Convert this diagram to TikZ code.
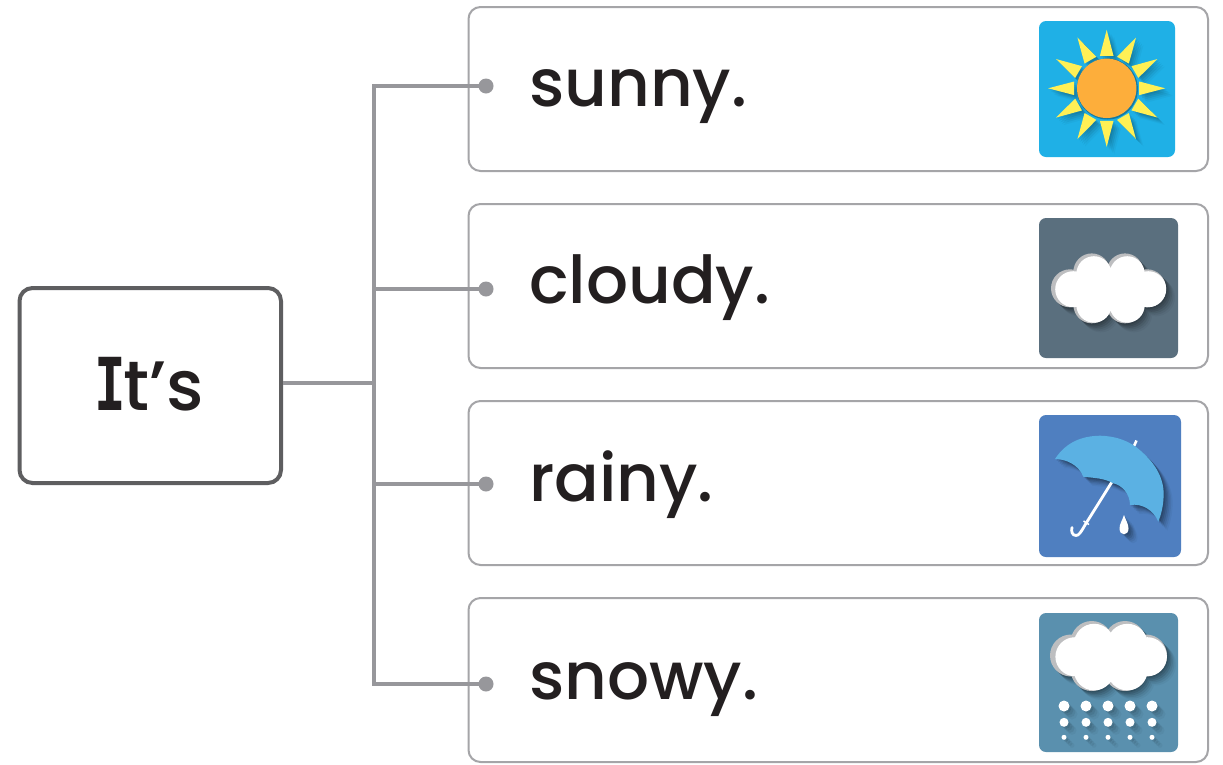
\documentclass[tikz,border=0pt]{standalone}
\usepackage{fontspec}
\setmainfont{Poppins}[UprightFont=* Medium]
\newfontfamily\slabfont{DejaVu Sans Mono}[UprightFont=* Bold,FakeStretch=0.72]
\definecolor{linegray}{HTML}{97979B}
\definecolor{boxgray}{HTML}{A5A5A8}
\definecolor{darkbox}{HTML}{5E5E60}
\definecolor{txt}{HTML}{231F20}
\definecolor{sky}{HTML}{1FB0E6}
\definecolor{slate}{HTML}{5A6F7E}
\definecolor{rainblue}{HTML}{4F7FC0}
\definecolor{snowblue}{HTML}{5A90AE}
\definecolor{umb}{HTML}{5BB1E3}
\definecolor{sunray}{HTML}{FFF055}
\definecolor{sunorange}{HTML}{FDAE3B}
\definecolor{cloudrim}{HTML}{BDBEC0}
\tikzset{
  x=1pt,y=-1pt,
  itembox/.style={draw=boxgray,line width=2pt,rounded corners=12pt,fill=white},
  rootbox/.style={draw=darkbox,line width=4pt,rounded corners=13pt,fill=white},
  conn/.style={draw=linegray,line width=3.6pt},
  dotmark/.style={circle,fill=linegray,inner sep=0pt,minimum size=15pt},
  word/.style={text=txt,font=\fontsize{66}{66}\selectfont,anchor=base west,inner sep=0pt},
  iconbg/.style={rounded corners=7pt},
}
% soft shadow: repeats a path, lower right, in faint layers
\newcommand{\softshadow}[1]{%
  \foreach \s/\o in {1.5/.13,3/.11,4.5/.10,6/.08,7.5/.06,9/.04}{%
    \begin{scope}[shift={(\s,\s)}]\fill[black,opacity=\o] #1;\end{scope}}}
\newcommand{\cloudA}{(1091.7,271.7) circle (18.3) (1125,271.7) circle (18.3) (1091.7,305) circle (18.3) (1125,305) circle (18.3) (1070,288.3) circle (19) (1147,288.3) circle (19) (1143,272) rectangle (1075,305)}
\newcommand{\cloudB}{(1091.7,642) circle (21) (1125,642) circle (21) (1091.7,670) circle (21) (1125,670) circle (21) (1071,655.5) circle (21) (1146,655.5) circle (21) (1143,640) rectangle (1075,672)}
\newcommand{\umbpath}{(1055,459) .. controls (1066,442) and (1082,436) .. (1100,435.7) .. controls (1116,436) and (1130,441) .. (1141,451) .. controls (1156,464) and (1165,480) .. (1163.5,498) .. controls (1163,507) and (1161,515) .. (1158.3,521.7) .. controls (1154,511) and (1143,503) .. (1130,505) .. controls (1130,494) and (1122,485) .. (1113.3,483.3) .. controls (1104,478) and (1094,478) .. (1083.3,476.7) .. controls (1079,465) and (1066,459) .. (1055,459) -- cycle}
\newcommand{\droppath}{(1124,515) .. controls (1126,521) and (1128.5,524) .. (1128.5,528.5) .. controls (1128.5,532) and (1126.5,534.3) .. (1124,534.3) .. controls (1121.5,534.3) and (1119.5,532) .. (1119.5,528.5) .. controls (1119.5,524) and (1122,521) .. (1124,515) -- cycle}
\begin{document}
\begin{tikzpicture}
\useasboundingbox (0,0) rectangle (1223,764);
\fill[white] (0,0) rectangle (1223,764);
% boxes
\draw[rootbox] (19.5,288) rectangle (281,483);
\draw[itembox] (468.5,7) rectangle (1208,171);
\draw[itembox] (468.5,204) rectangle (1208,368);
\draw[itembox] (468.5,401) rectangle (1208,565);
\draw[itembox] (468.5,598) rectangle (1208,762);
\node[anchor=base,text=txt,font=\fontsize{70}{70}\selectfont,inner sep=0pt] (root) at (149,410) {{\slabfont\fontsize{73}{73}\selectfont I}\kern-3pt t’s};
% connectors
\coordinate (rootedge) at (283,383);
\coordinate (trunk) at (374,383);
\coordinate (j1) at (374,86);
\coordinate (j2) at (374,289);
\coordinate (j3) at (374,484);
\coordinate (j4) at (374,684);
\node[dotmark] (d1) at (486,86) {};
\node[dotmark] (d2) at (486,289) {};
\node[dotmark] (d3) at (486,484) {};
\node[dotmark] (d4) at (486,684) {};
\draw[conn] (d1.center) -- (j1) -- (j4) -- (d4.center);
\draw[conn] (rootedge) -- (trunk);
\draw[conn] (j2) -- (d2.center);
\draw[conn] (j3) -- (d3.center);
% words
\node[word] (w1) at (529,106) {sunny.};
\node[word] (w2) at (529,303) {cloudy.};
\node[word] (w3) at (529,501.5) {rainy.};
\node[word] (w4) at (529,699) {snowy.};
% sun icon
\fill[sky,iconbg] (1039,21) rectangle (1175,157);
\begin{scope}[shift={(1106.7,88.3)}]
  \foreach \a in {0,30,...,330}{
    \foreach \s/\o in {1.5/.08,3/.07,4.5/.06,6/.05,7.5/.03}{
      \begin{scope}[shift={(\s,\s)}]
      \fill[black,opacity=\o,rotate=\a] (-6.8,-32.5) -- (0,-58.5) -- (6.8,-32.5) -- cycle;
      \end{scope}}
  }
  \foreach \a in {0,30,...,330}{
    \fill[sunray,rotate=\a] (-6.8,-32.5) -- (0,-58.5) -- (6.8,-32.5) -- cycle;
  }
  \fill[black,opacity=.3] (0.7,0.7) circle (30.5);
  \fill[sunorange] (0,0) circle (29.7);
\end{scope}
% cloudy icon
\fill[slate,iconbg] (1039,218) rectangle (1178,358);
\softshadow{\cloudA}
\fill[cloudrim] \cloudA;
\begin{scope}[shift={(2.2,1.2)}]\fill[white] (1091.7,272.5) circle (17.5) (1125,272.5) circle (17.5) (1091.7,304) circle (17.5) (1125,304) circle (17.5) (1071,288) circle (18) (1146,288) circle (18) (1143,272) rectangle (1075,305);\end{scope}
% rainy icon
\fill[rainblue,iconbg] (1039,415) rectangle (1181,557);
\draw[white,line width=2.6pt] (1134,446) -- (1136.5,440.5);
\softshadow{\umbpath}
\softshadow{\droppath}
\draw[white,line width=2.8pt,line cap=round] (1111.7,482.3) -- (1085,525) .. controls (1081,532) and (1079,535.5) .. (1076,535.5) .. controls (1072,535.5) and (1071,531) .. (1072,527.5);
\draw[white,line width=1.5pt] (1083.5,521) -- (1089,524.5);
\fill[umb] \umbpath;
\fill[white] \droppath;
% snowy icon
\fill[snowblue,iconbg] (1039,613) rectangle (1178,752);
\softshadow{\cloudB}
\fill[cloudrim] \cloudB;
\begin{scope}[shift={(2.4,1.2)}]\fill[white] (1091.7,642.8) circle (20.2) (1125,642.8) circle (20.2) (1091.7,669) circle (20.2) (1125,669) circle (20.2) (1072.5,655.5) circle (19.5) (1145,655.5) circle (19.5) (1143,640) rectangle (1075,672);\end{scope}
\foreach \x in {1064,1086,1108,1130,1152}{
  \foreach \y/\r in {706/5.5,722.3/4.5,737.3/2.5}{
    \foreach \s/\o in {2/.10,4/.08,6/.06,8/.04}{
      \fill[black,opacity=\o] (\x+\s,\y+\s) circle (\r);}
  }
}
\foreach \x in {1064,1086,1108,1130,1152}{
  \foreach \y/\r in {706/5.5,722.3/4.5,737.3/2.5}{
    \fill[white] (\x,\y) circle (\r);
  }
}
\end{tikzpicture}
\end{document}
